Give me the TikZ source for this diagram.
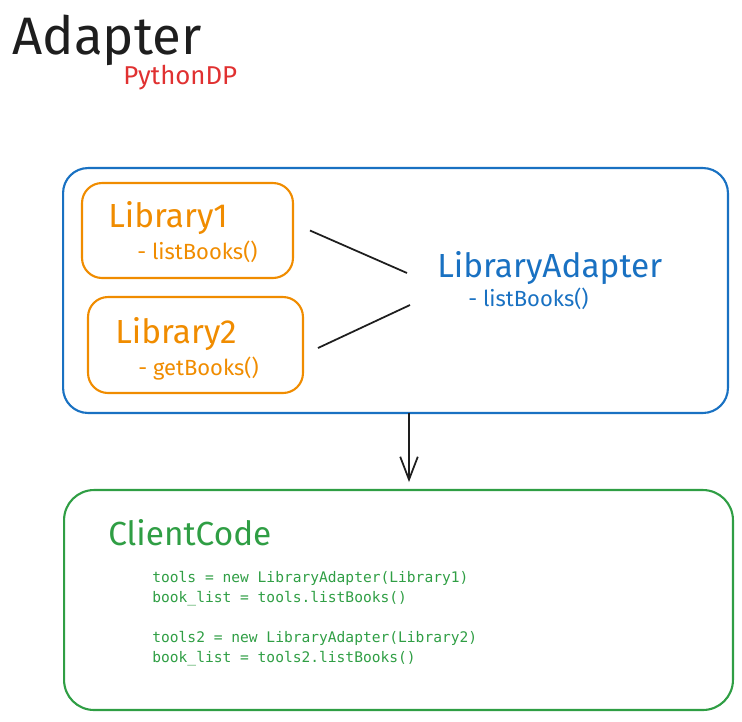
\documentclass[tikz,border=0pt]{standalone}
\usepackage{fontspec}
\setmainfont{Fira Sans}
\newfontfamily\codefont{DejaVu Sans Mono}
\usetikzlibrary{arrows.meta, positioning, calc}

\definecolor{ink}{HTML}{1E1E1E}
\definecolor{exred}{HTML}{E03131}
\definecolor{exblue}{HTML}{1971C2}
\definecolor{exorange}{HTML}{F08C00}
\definecolor{exgreen}{HTML}{2F9E44}

\tikzset{
    box/.style={draw, line width=1.2pt, inner sep=0pt, outer sep=0pt},
    label/.style={anchor=base west, inner sep=0pt, font=\fontsize{19}{22}\selectfont},
    method/.style={anchor=base west, inner sep=0pt, font=\fontsize{12.5}{15}\selectfont},
    codeline/.style={anchor=base west, inner sep=0pt, text=exgreen, font=\codefont\fontsize{8.3}{10}\selectfont},
    link/.style={draw=ink, line width=1pt},
}

\begin{document}
\begin{tikzpicture}[x=0.02cm, y=-0.02cm]
    \useasboundingbox (0,0) rectangle (742,721);

    % title
    \node[anchor=base west, inner sep=0pt, text=ink, font=\fontsize{30}{34}\selectfont] (title) at (12,54) {Adapter};
    \node[anchor=base west, inner sep=0pt, text=exred, font=\fontsize{14.7}{17}\selectfont] (sub) at (123,84) {PythonDP};

    % boxes
    \node[box, draw=exblue, rounded corners=0.5cm, minimum width=13.3cm, minimum height=4.9cm] (adapterbox) at (395.5,290.5) {};
    \node[box, draw=exorange, rounded corners=0.4cm, minimum width=4.22cm, minimum height=1.9cm] (lib1) at (187.5,230.5) {};
    \node[box, draw=exorange, rounded corners=0.4cm, minimum width=4.3cm, minimum height=1.92cm] (lib2) at (195.5,345) {};
    \node[box, draw=exgreen, rounded corners=0.6cm, minimum width=13.38cm, minimum height=4.4cm] (clientbox) at (398.5,600) {};

    % texts
    \node[label, text=exorange] (lib1name) at (108,227) {Library1};
    \node[method, text=exorange] (lib1op) at (137,259) {- listBooks()};
    \node[label, text=exorange] (lib2name) at (115,343) {Library2};
    \node[method, text=exorange] (lib2op) at (138,375) {- getBooks()};
    \node[label, text=exblue] (adaptername) at (437,277) {LibraryAdapter};
    \node[method, text=exblue] (adapterop) at (468,306) {- listBooks()};
    \node[label, text=exgreen] (clientname) at (108,545) {ClientCode};

    \node[codeline] (code1) at (152,582) {tools = new LibraryAdapter(Library1)};
    \node[codeline] (code2) at (152,602) {book\_list = tools.listBooks()};
    \node[codeline] (code3) at (152,642) {tools2 = new LibraryAdapter(Library2)};
    \node[codeline] (code4) at (152,662) {book\_list = tools2.listBooks()};

    % connectors
    \coordinate (hub1) at (407,273);
    \coordinate (hub2) at (410,305);
    \coordinate (drop) at (409,415);
    \draw[link] ($(lib1.east)+(17,0)$) -- (hub1);
    \draw[link] ($(lib2.east)+(15,3)$) -- (hub2);
    \draw[link, -{Straight Barb[length=13pt, width=10pt]}, shorten >=0.16cm] (adapterbox.south -| drop) -- (clientbox.north -| drop);
\end{tikzpicture}
\end{document}
